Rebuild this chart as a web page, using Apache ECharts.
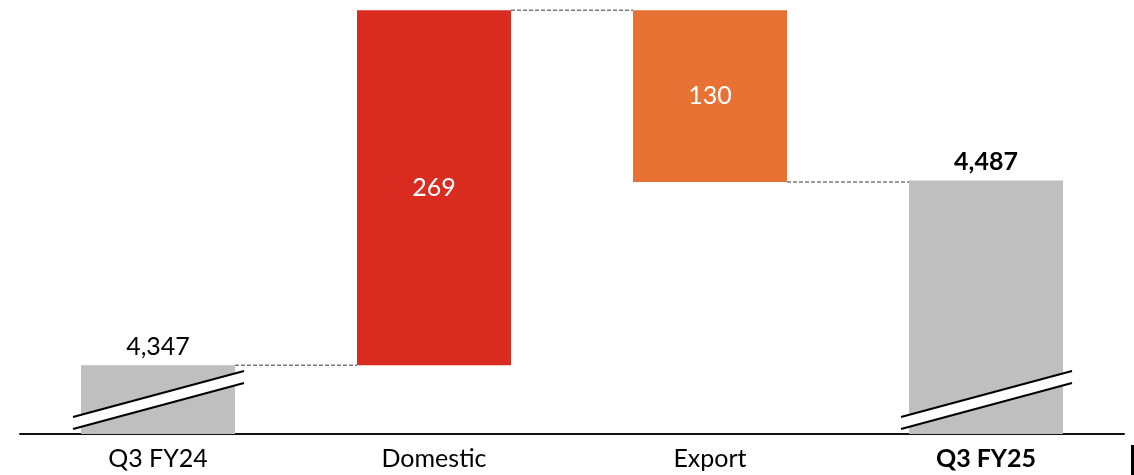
<!DOCTYPE html>
<html>
<head>
<meta charset="utf-8">
<style>
  html, body { margin: 0; padding: 0; background: #fff; }
  #chart { width: 1134px; height: 475px; }
</style>
<script src="https://cdn.jsdelivr.net/npm/echarts@6/dist/echarts.min.js"></script>
</head>
<body>
<div id="chart"></div>
<script>
// Waterfall: opening total, two movements, closing total
const categories = ['Q3 FY24', 'Domestic', 'Export', 'Q3 FY25'];
const totals = [4347, null, null, 4487];      // full bars (opening / closing)
const changes = [null, 269, -130, null];      // movements between totals
const boldCategories = ['Q3 FY25'];
const axisFloor = 4295;                       // broken value axis starts here
const axisCeil = 4620;

const COLORS = {
  total: '#BFBFBF',
  up: '#D92B1F',
  down: '#E87233',
  connector: '#7a7a7a'
};
const FONT = 'Lato, "Open Sans", sans-serif';
const BAR_RATIO = 0.558;

// running levels: invisible base + visible segment per category
const baseData = [];
const barData = [];
const levelAfter = [];
let running = 0;
categories.forEach((c, i) => {
  if (totals[i] != null) {
    running = totals[i];
    baseData.push(0);
    barData.push({
      value: totals[i],
      itemStyle: { color: COLORS.total },
      label: {
        show: true,
        position: 'top',
        distance: 6,
        color: '#000',
        fontSize: 25,
        fontFamily: FONT,
        fontWeight: boldCategories.includes(c) ? 'bold' : 'normal',
        formatter: () => totals[i].toLocaleString('en-US')
      }
    });
  } else {
    const d = changes[i];
    const lo = d >= 0 ? running : running + d;
    baseData.push(lo);
    barData.push({
      value: Math.abs(d),
      itemStyle: { color: d >= 0 ? COLORS.up : COLORS.down },
      label: {
        show: true,
        position: 'inside',
        color: '#fff',
        fontSize: 25,
        fontFamily: FONT,
        formatter: () => String(Math.abs(d))
      }
    });
    running += d;
  }
  levelAfter.push(running);
});

// dashed connectors from each bar to the next one
const connectorData = [];
for (let i = 0; i < categories.length - 1; i++) {
  connectorData.push([i, levelAfter[i]]);
}

// axis break marks on the total bars
const breakData = [];
categories.forEach((c, i) => { if (totals[i] != null) breakData.push([i, axisFloor]); });

const chart = echarts.init(document.getElementById('chart'), null, { renderer: 'canvas' });

chart.setOption({
  animation: false,
  backgroundColor: '#fff',
  grid: { left: 20, right: 10, top: 5, bottom: 41, containLabel: false },
  xAxis: {
    type: 'category',
    data: categories.map(c => ({
      value: c,
      textStyle: { fontWeight: boldCategories.includes(c) ? 'bold' : 'normal' }
    })),
    axisLine: { show: true, lineStyle: { color: '#111', width: 2 } },
    axisTick: { show: false },
    axisLabel: { color: '#000', fontSize: 25, fontFamily: FONT, margin: 12 },
    splitLine: { show: false }
  },
  yAxis: {
    type: 'value',
    min: axisFloor,
    max: axisCeil,
    show: false,
    splitLine: { show: false }
  },
  graphic: [{
    type: 'rect',
    right: 0,
    bottom: 0,
    shape: { width: 3, height: 30 },
    style: { fill: '#000' }
  }],
  series: [
    {
      name: 'base',
      type: 'bar',
      stack: 'wf',
      barWidth: (BAR_RATIO * 100) + '%',
      itemStyle: { color: 'transparent' },
      silent: true,
      data: baseData
    },
    {
      name: 'value',
      type: 'bar',
      stack: 'wf',
      barWidth: (BAR_RATIO * 100) + '%',
      data: barData
    },
    {
      name: 'connectors',
      type: 'custom',
      silent: true,
      z: 3,
      data: connectorData,
      renderItem: function (params, api) {
        const i = api.value(0);
        const lvl = api.value(1);
        const hw = api.size([1, 0])[0] * BAR_RATIO / 2;
        const p0 = api.coord([i, lvl]);
        const p1 = api.coord([i + 1, lvl]);
        return {
          type: 'line',
          shape: { x1: p0[0] + hw, y1: p0[1], x2: p1[0] - hw, y2: p1[1] },
          style: { stroke: COLORS.connector, lineWidth: 1.5, lineDash: [4, 2] }
        };
      }
    },
    {
      name: 'breaks',
      type: 'custom',
      silent: true,
      z: 5,
      data: breakData,
      renderItem: function (params, api) {
        const p = api.coord([api.value(0), api.value(1)]);
        const hw = api.size([1, 0])[0] * BAR_RATIO / 2;
        const xl = p[0] - hw - 8;
        const xr = p[0] + hw + 9;
        const b = p[1];
        const upper = [[xl, b - 17], [xr, b - 63]];
        const lower = [[xl, b - 5], [xr, b - 51]];
        return {
          type: 'group',
          children: [
            {
              type: 'polygon',
              shape: { points: [upper[0], upper[1], lower[1], lower[0]] },
              style: { fill: '#fff' }
            },
            {
              type: 'line',
              shape: { x1: upper[0][0], y1: upper[0][1], x2: upper[1][0], y2: upper[1][1] },
              style: { stroke: '#000', lineWidth: 2 }
            },
            {
              type: 'line',
              shape: { x1: lower[0][0], y1: lower[0][1], x2: lower[1][0], y2: lower[1][1] },
              style: { stroke: '#000', lineWidth: 2 }
            }
          ]
        };
      }
    }
  ]
});
</script>
</body>
</html>
